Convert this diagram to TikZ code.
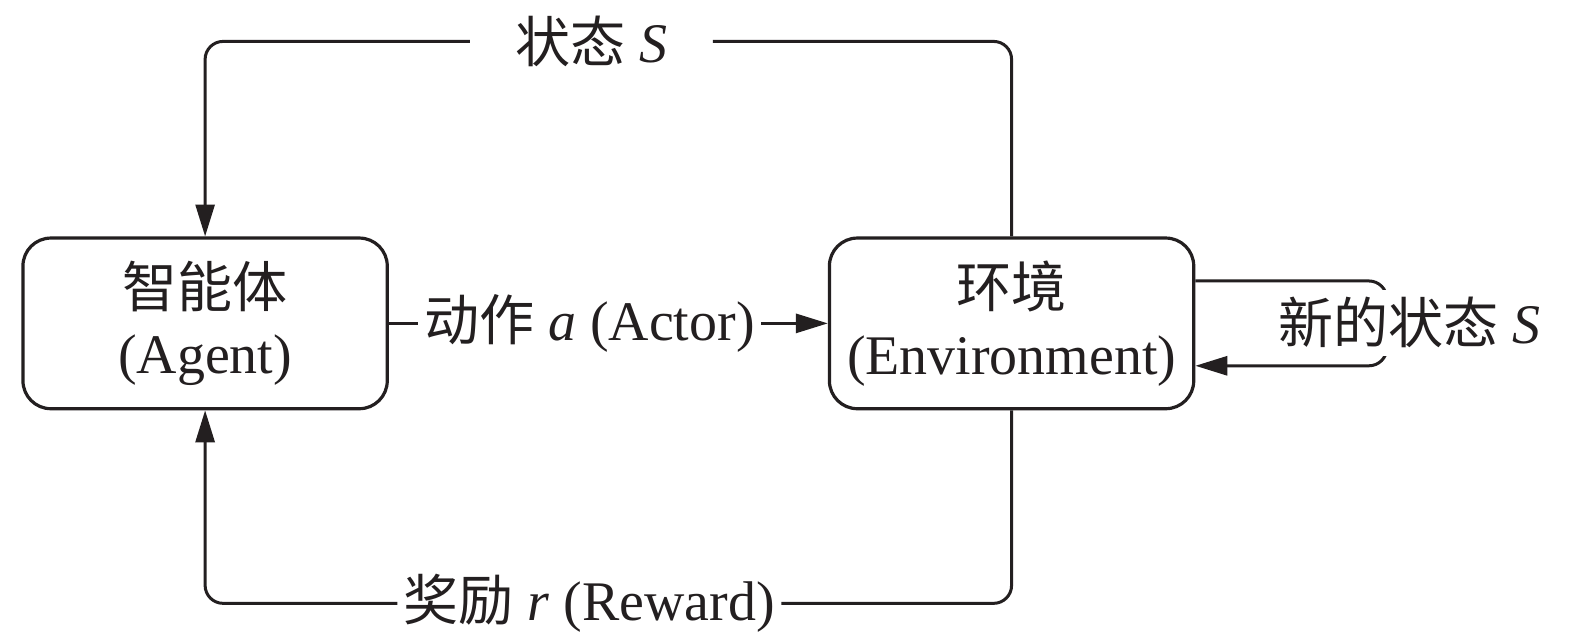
\documentclass[tikz,border=0pt]{standalone}
\usepackage{fontspec}
\setmainfont{Liberation Serif}
\newfontfamily\cjk[Scale=0.985]{Noto Sans CJK SC}
\usetikzlibrary{arrows.meta}
\definecolor{ink}{HTML}{231F20}
\begin{document}
\begin{tikzpicture}[x=0.5pt,y=-0.5pt,
  every path/.style={draw=ink, line width=1.5pt},
  box/.style={draw=ink, line width=1.6pt, rounded corners=14pt,
    minimum width=182.5pt, minimum height=85.5pt, align=center,
    text=ink, font=\fontsize{28}{33.5}\selectfont},
  lbl/.style={fill=white, text=ink, inner ysep=3pt, font=\fontsize{28}{30}\selectfont},
  arr/.style={-{Triangle[length=16pt,width=9.5pt]}},
  conn/.style={rounded corners=9pt}]
\useasboundingbox (0,0) rectangle (1575,638);
\fill[white] (0,0) rectangle (1575,638);

\node[box] (agent) at (204,322.5) {{\cjk 智能体}\\(Agent)};
\node[box] (env) at (1012,322.5) {{\cjk 环境}\\(Environment)};

% top: state
\node[lbl, inner xsep=22pt] (sS) at (591,40) {{\cjk 状态} \textit{S}};
\draw[conn] (env.north) |- (sS.east);
\draw[conn, arr] (sS.west) -| (agent.north);

% middle: action
\node[lbl, inner xsep=2.5pt] (act) at (589,322.5) {{\cjk 动作} \textit{a} (Actor)};
\draw (agent.east) -- (act.west);
\draw[arr] (act.east) -- (env.west);

% bottom: reward
\node[lbl, inner xsep=2.5pt] (rew) at (589,603) {{\cjk 奖励} \textit{r} (Reward)};
\draw[conn] (env.south) |- (rew.east);
\draw[conn, arr] (rew.west) -| (agent.south);

% self loop: new state
\coordinate (lp1) at (1388,280);
\coordinate (lp2) at (1388,365);
\draw[conn, arr] (env.east |- lp1) -- (lp1) -- (lp2) -- (env.east |- lp2);
\node[lbl, inner xsep=2pt, inner ysep=4pt] (ns) at (1411,322) {{\cjk 新的状态} \textit{S}};
\end{tikzpicture}
\end{document}
